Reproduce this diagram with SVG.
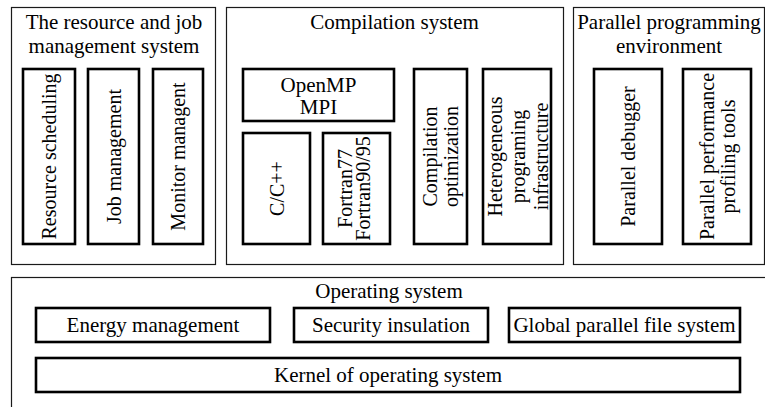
<svg xmlns="http://www.w3.org/2000/svg" width="765" height="407" viewBox="0 0 765 407">
<style>
text{font-family:'Liberation Serif','DejaVu Serif','Times New Roman',serif;font-size:21px;fill:#000;text-anchor:middle}
.v{font-size:20px}
.outer{fill:none;stroke:#1a1a1a;stroke-width:1.2}
.inner{fill:none;stroke:#000;stroke-width:2.6}
</style>
<rect width="765" height="407" fill="#fff"/>
<g font-family="Liberation Serif, DejaVu Serif, serif">
<g id="resource-job-system">
<rect class="outer" x="11.5" y="7.5" width="204" height="257"/>
<text x="114" y="29">The resource and job</text>
<text x="114" y="53">management system</text>
</g>
<g id="resource-scheduling">
<rect class="inner" x="23" y="69" width="52" height="175"/>
<text class="v" transform="translate(49,156.5) rotate(-90)" y="7">Resource scheduling</text>
</g>
<g id="job-management">
<rect class="inner" x="88" y="69" width="51" height="175"/>
<text class="v" transform="translate(113.5,156.5) rotate(-90)" y="7">Job management</text>
</g>
<g id="monitor-managent">
<rect class="inner" x="153" y="69" width="50" height="175"/>
<text class="v" transform="translate(178,156.5) rotate(-90)" y="7">Monitor managent</text>
</g>
<g id="compilation-system">
<rect class="outer" x="226.5" y="7.5" width="337" height="257"/>
<text x="394.5" y="29">Compilation system</text>
</g>
<g id="openmp-mpi">
<rect class="inner" x="243" y="69" width="151" height="52"/>
<text x="318.5" y="92">OpenMP</text>
<text x="318.5" y="114">MPI</text>
</g>
<g id="c-cpp">
<rect class="inner" x="243" y="133" width="67" height="111"/>
<text class="v" transform="translate(276.5,188.5) rotate(-90)" y="7">C/C++</text>
</g>
<g id="fortran">
<rect class="inner" x="323" y="133" width="67" height="111"/>
<text class="v" transform="translate(356.5,188.5) rotate(-90)" y="-4.5">Fortran77</text>
<text class="v" transform="translate(356.5,188.5) rotate(-90)" y="13.5">Fortran90/95</text>
</g>
<g id="compilation-optimization">
<rect class="inner" x="414" y="69" width="53" height="175"/>
<text class="v" transform="translate(440.5,156.5) rotate(-90)" y="-3.5">Compilation</text>
<text class="v" transform="translate(440.5,156.5) rotate(-90)" y="17.5">optimization</text>
</g>
<g id="heterogeneous-programing">
<rect class="inner" x="483" y="69" width="68" height="175"/>
<text class="v" transform="translate(517,156.5) rotate(-90)" y="-15">Heterogeneous</text>
<text class="v" transform="translate(517,156.5) rotate(-90)" y="8">programing</text>
<text class="v" transform="translate(517,156.5) rotate(-90)" y="31">infrastructure</text>
</g>
<g id="parallel-programming-environment">
<rect class="outer" x="573.5" y="7.5" width="191" height="257"/>
<text x="669" y="29">Parallel programming</text>
<text x="669" y="53">environment</text>
</g>
<g id="parallel-debugger">
<rect class="inner" x="594" y="69" width="68" height="175"/>
<text class="v" transform="translate(628,156.5) rotate(-90)" y="7">Parallel debugger</text>
</g>
<g id="parallel-performance">
<rect class="inner" x="683" y="69" width="68" height="175"/>
<text class="v" transform="translate(717,156.5) rotate(-90)" y="-3">Parallel performance</text>
<text class="v" transform="translate(717,156.5) rotate(-90)" y="18">profiling tools</text>
</g>
<g id="operating-system">
<rect class="outer" x="11.5" y="277.5" width="770" height="150"/>
<text x="389" y="298">Operating system</text>
</g>
<g id="energy-management">
<rect class="inner" x="36" y="308" width="234" height="34"/>
<text x="153" y="332">Energy management</text>
</g>
<g id="security-insulation">
<rect class="inner" x="294" y="308" width="194" height="34"/>
<text x="391" y="332">Security insulation</text>
</g>
<g id="global-parallel-file-system">
<rect class="inner" x="509" y="308" width="231" height="34"/>
<text x="624.5" y="332">Global parallel file system</text>
</g>
<g id="kernel">
<rect class="inner" x="36" y="358" width="704" height="34"/>
<text x="388" y="382">Kernel of operating system</text>
</g>
</g>
<g id="connectors"/>
</svg>
